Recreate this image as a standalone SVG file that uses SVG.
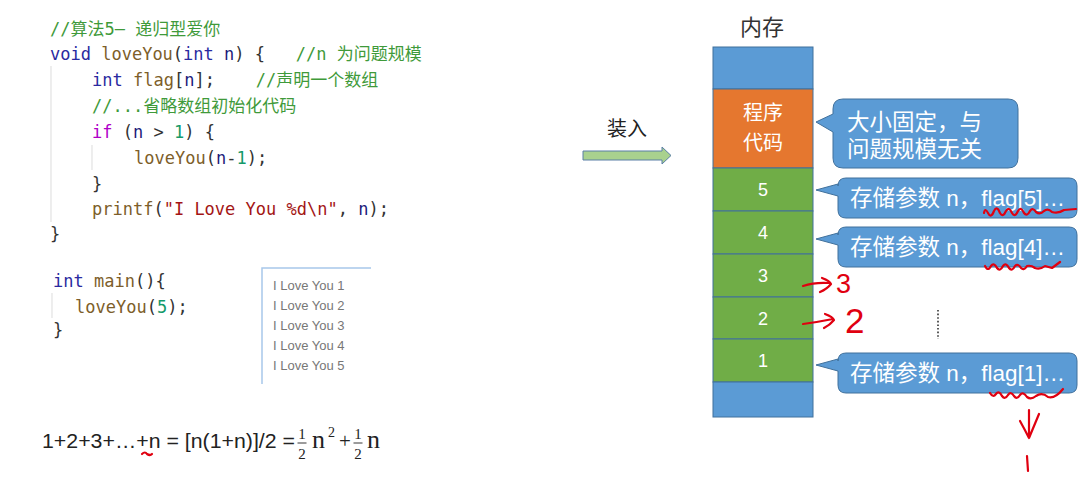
<svg xmlns="http://www.w3.org/2000/svg" width="1084" height="485" viewBox="0 0 1084 485">
<style>
.code{font-family:"DejaVu Sans Mono","Noto Sans CJK SC",monospace;font-size:17px;fill:#333}
.cm{fill:#3f9a3a}.kw{fill:#2a2aa0}.fn{fill:#7d5e2a}.pm{fill:#1a1a7a}.ctl{fill:#b000c8}.num{fill:#159a6a}.str{fill:#a31515}
.out{font-family:"Liberation Sans",Arial,sans-serif;font-size:13px;fill:#777}
.guide{stroke:#e2e2e2;stroke-width:1.2}
.blk{stroke:#41719c;stroke-width:1}
.wt{font-family:"Liberation Sans","Noto Sans CJK SC",sans-serif;fill:#fff}
.bub{fill:#5b9bd5;stroke:#41719c;stroke-width:1}
.red{fill:none;stroke:#e00010;stroke-width:2.2;stroke-linecap:round;stroke-linejoin:round}
.rt{font-family:"Liberation Sans",sans-serif;fill:#e00010}
.fm{font-family:"Liberation Sans",Arial,sans-serif;font-size:21px;fill:#222}
.fmm{font-family:"Liberation Serif","Times New Roman",serif;fill:#222}
</style>
<rect width="1084" height="485" fill="#fff"/>

<g id="code">
<line class="guide" x1="51" y1="66" x2="51" y2="222"/>
<line class="guide" x1="92" y1="145" x2="92" y2="170"/>
<line class="guide" x1="52" y1="293" x2="52" y2="318"/>
<text class="code" x="50" y="35" xml:space="preserve"><tspan class="cm">//算法5— 递归型爱你</tspan></text>
<text class="code" x="50" y="60" xml:space="preserve"><tspan class="kw">void</tspan> <tspan class="fn">loveYou</tspan>(<tspan class="kw">int</tspan> <tspan class="pm">n</tspan>) {   <tspan class="cm">//n 为问题规模</tspan></text>
<text class="code" x="92" y="86" xml:space="preserve"><tspan class="kw">int</tspan> <tspan class="fn">flag</tspan>[<tspan class="pm">n</tspan>];    <tspan class="cm">//声明一个数组</tspan></text>
<text class="code" x="92" y="112" xml:space="preserve"><tspan class="cm">//...省略数组初始化代码</tspan></text>
<text class="code" x="92" y="138" xml:space="preserve"><tspan class="ctl">if</tspan> (<tspan class="pm">n</tspan> &gt; <tspan class="num">1</tspan>) {</text>
<text class="code" x="134" y="164" xml:space="preserve"><tspan class="fn">loveYou</tspan>(<tspan class="pm">n</tspan>-<tspan class="num">1</tspan>);</text>
<text class="code" x="92" y="190">}</text>
<text class="code" x="92" y="215" xml:space="preserve"><tspan class="fn">printf</tspan>(<tspan class="str">"I Love You %d\n"</tspan>, <tspan class="pm">n</tspan>);</text>
<text class="code" x="50" y="240">}</text>
<text class="code" x="53" y="287" xml:space="preserve"><tspan class="kw">int</tspan> <tspan class="fn">main</tspan>(){</text>
<text class="code" x="75" y="313" xml:space="preserve"><tspan class="fn">loveYou</tspan>(<tspan class="num">5</tspan>);</text>
<text class="code" x="53" y="336">}</text>
</g>

<g id="output">
<path d="M371,268 H262 V384" fill="none" stroke="#a8c8ea" stroke-width="1.5"/>
<text class="out" x="273" y="290">I Love You 1</text>
<text class="out" x="273" y="310">I Love You 2</text>
<text class="out" x="273" y="330">I Love You 3</text>
<text class="out" x="273" y="350">I Love You 4</text>
<text class="out" x="273" y="370">I Love You 5</text>
</g>

<g id="formula">
<text class="fm" x="42" y="448" textLength="253" lengthAdjust="spacingAndGlyphs">1+2+3+…+n = [n(1+n)]/2 =</text>
<text class="fmm" font-size="15" x="302" y="439" text-anchor="middle">1</text>
<text class="fmm" font-size="15" x="302" y="459" text-anchor="middle">2</text>
<line x1="297.5" y1="443" x2="306.5" y2="443" stroke="#222" stroke-width="0.9"/>
<text class="fmm" font-size="26" x="312" y="448">n</text>
<text class="fmm" font-size="14" x="328" y="437">2</text>
<text class="fmm" font-size="21" x="339" y="448">+</text>
<text class="fmm" font-size="15" x="358" y="439" text-anchor="middle">1</text>
<text class="fmm" font-size="15" x="358" y="459" text-anchor="middle">2</text>
<line x1="353.5" y1="443" x2="362.5" y2="443" stroke="#222" stroke-width="0.9"/>
<text class="fmm" font-size="26" x="367" y="448">n</text>
<path class="red" d="M142,454 Q145,451 147,454 Q150,456 152,454" stroke-width="1.6"/>
</g>

<g id="load-arrow">
<text x="627" y="136" text-anchor="middle" font-family="Liberation Sans,Noto Sans CJK SC,sans-serif" font-size="20" fill="#222">装入</text>
<path d="M583,151 H662 V147 L671,155.5 L662,164 V160 H583 Z" fill="#a9d18e" stroke="#5a7fa6" stroke-width="1"/>
</g>

<g id="memory">
<text x="762" y="35" text-anchor="middle" font-family="Liberation Sans,Noto Sans CJK SC,sans-serif" font-size="22" fill="#333">内存</text>
<rect class="blk" x="713" y="47" width="100" height="42" fill="#5b9bd5"/>
<rect class="blk" x="713" y="89" width="100" height="79" fill="#e5772f"/>
<text class="wt" x="763" y="120" text-anchor="middle" font-size="20">程序</text>
<text class="wt" x="763" y="150" text-anchor="middle" font-size="20">代码</text>
<rect class="blk" x="713" y="168" width="100" height="43" fill="#70ad47"/>
<text class="wt" x="763" y="196" text-anchor="middle" font-size="18">5</text>
<rect class="blk" x="713" y="211" width="100" height="43" fill="#70ad47"/>
<text class="wt" x="763" y="239" text-anchor="middle" font-size="18">4</text>
<rect class="blk" x="713" y="254" width="100" height="43" fill="#70ad47"/>
<text class="wt" x="763" y="282" text-anchor="middle" font-size="18">3</text>
<rect class="blk" x="713" y="297" width="100" height="42" fill="#70ad47"/>
<text class="wt" x="763" y="325" text-anchor="middle" font-size="18">2</text>
<rect class="blk" x="713" y="339" width="100" height="43" fill="#70ad47"/>
<text class="wt" x="763" y="367" text-anchor="middle" font-size="18">1</text>
<rect class="blk" x="713" y="382" width="100" height="35" fill="#5b9bd5"/>
</g>

<g id="callout-code">
<path class="bub" d="M843,99 H1008 Q1018,99 1018,109 V158 Q1018,168 1008,168 H843 Q833,168 833,158 V132 L816,122 L833,114 V109 Q833,99 843,99 Z"/>
<text class="wt" x="847" y="130" font-size="22.5">大小固定，与</text>
<text class="wt" x="847" y="157" font-size="22.5">问题规模无关</text>
</g>

<g id="callout-5">
<path class="bub" d="M846,178 H1069 Q1077,178 1077,186 V210 Q1077,218 1069,218 H846 Q838,218 838,210 V196 L816,190 L838,184 V186 Q838,178 846,178 Z"/>
<text class="wt" x="850" y="206" font-size="22.5" xml:space="preserve">存储参数 n，flag[5]…</text>
</g>
<g id="callout-4">
<path class="bub" d="M846,227 H1069 Q1077,227 1077,235 V259 Q1077,267 1069,267 H846 Q838,267 838,259 V245 L816,239 L838,233 V235 Q838,227 846,227 Z"/>
<text class="wt" x="850" y="255" font-size="22.5" xml:space="preserve">存储参数 n，flag[4]…</text>
</g>
<g id="callout-1">
<path class="bub" d="M846,353 H1069 Q1077,353 1077,361 V385 Q1077,393 1069,393 H846 Q838,393 838,385 V371 L816,365 L838,359 V361 Q838,353 846,353 Z"/>
<text class="wt" x="850" y="381" font-size="22.5" xml:space="preserve">存储参数 n，flag[1]…</text>
</g>

<g id="ellipsis">
<line x1="938" y1="310" x2="938" y2="339" stroke="#333" stroke-width="1.6" stroke-dasharray="1.6,2"/>
</g>

<g id="annotations">
<path class="red" d="M984,213 Q985,207 988,213 Q991,219 994,211 Q997,205 1000,213 Q1003,218 1006,211 Q1009,206 1012,213 Q1015,218 1018,211 Q1021,206 1024,213 Q1027,217 1030,211 Q1033,207 1036,212 Q1040,215 1044,211 Q1048,208 1052,212 Q1058,214 1064,210 L1076,209"/>
<path class="red" d="M985,266 Q988,272 991,266 Q994,262 997,268 Q1000,272 1003,266 Q1006,262 1009,268 Q1012,272 1015,266 Q1018,263 1021,268 Q1024,271 1027,266 Q1031,265 1035,268 Q1040,270 1045,266 L1052,268 L1060,262"/>
<path class="red" d="M990,393 Q993,398 996,394 Q999,390 1002,396 Q1005,400 1008,395 Q1011,391 1014,396 Q1017,400 1020,395 Q1023,391 1027,397 Q1031,400 1036,396 Q1042,392 1048,397 Q1055,399 1063,389"/>
<path class="red" d="M803,286 Q815,282 829,283 M822,278 Q830,281 831,284 Q827,289 820,292"/>
<text class="rt" x="836" y="293" font-size="27">3</text>
<path class="red" d="M803,324 Q818,322 833,319 M825,314 Q833,317 834,320 Q830,325 824,328"/>
<text class="rt" x="845" y="333" font-size="35">2</text>
<path class="red" d="M1029,410 V438 M1020,421 Q1025,430 1029,438 Q1034,426 1039,414"/>
<path class="red" d="M1027,456 L1028,471" stroke-width="3"/>
</g>
</svg>
